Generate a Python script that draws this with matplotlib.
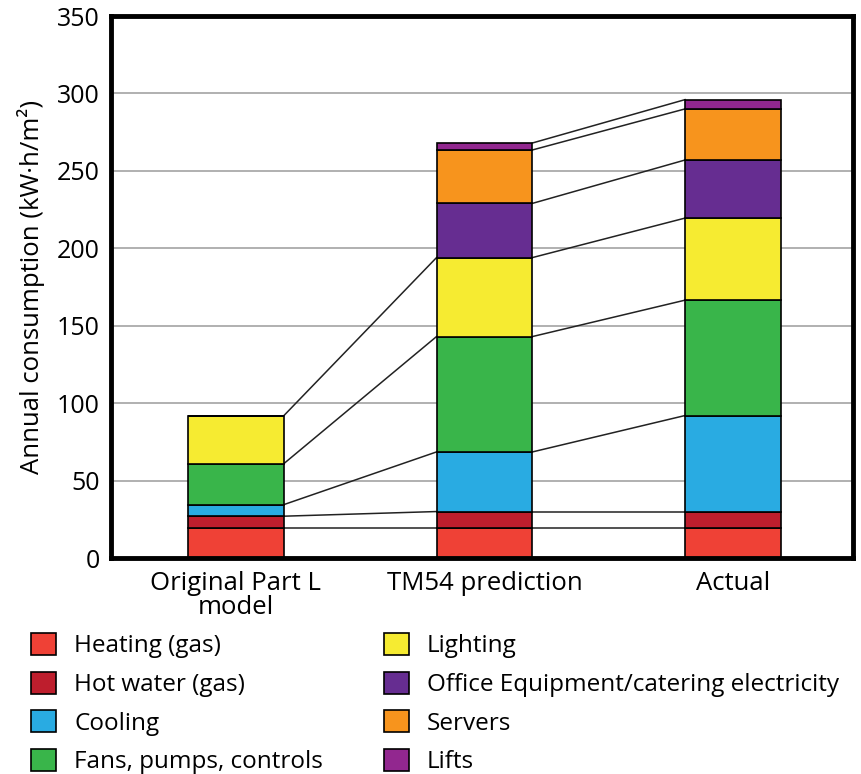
import matplotlib
matplotlib.use("Agg")
import matplotlib.pyplot as plt
from matplotlib.patches import Patch
import numpy as np

plt.rcParams['font.family'] = ['Open Sans', 'DejaVu Sans']

# Data (kWh/m2 per end use)
scenarios = ["Original Part L\nmodel", "TM54 prediction", "Actual"]
end_uses = ["Heating (gas)", "Hot water (gas)", "Cooling", "Fans, pumps, controls",
            "Lighting", "Office Equipment/catering electricity", "Servers", "Lifts"]
heating = [19.5, 19.5, 19.5]
hot_water = [7.5, 10.5, 10.5]
cooling = [7.5, 38.5, 62.0]
fans = [26.5, 74.5, 74.5]
lighting = [31.0, 51.0, 53.0]
office = [0.0, 35.0, 37.5]
servers = [0.0, 34.5, 33.0]
lifts = [0.0, 4.5, 6.0]

colours = ["#EF4136", "#BE1E2D", "#29ABE2", "#39B54A",
           "#F6EB31", "#662D91", "#F7941D", "#92278F"]


def main():
    series = np.array([heating, hot_water, cooling, fans,
                       lighting, office, servers, lifts])
    x = np.arange(len(scenarios))
    width = 0.386

    fig = plt.figure(figsize=(8.61, 7.74), dpi=100)
    ax = fig.add_axes([111 / 861, 1 - 558 / 774, 742 / 861, 542 / 774])

    bottoms = np.zeros(len(scenarios))
    for vals, col in zip(series, colours):
        ax.bar(x, vals, width, bottom=bottoms, color=col,
               edgecolor="black", linewidth=1.2, zorder=3)
        bottoms = bottoms + vals

    # Connector lines between the tops of matching segments
    tops = np.cumsum(series, axis=0)
    for i in range(len(scenarios) - 1):
        for k in range(series.shape[0]):
            if series[k, i] == 0:
                continue
            ax.plot([x[i] + width / 2, x[i + 1] - width / 2],
                     [tops[k, i], tops[k, i + 1]],
                     color="#222222", linewidth=1.1, zorder=2)

    ax.set_xlim(-0.503, 2.483)
    ax.set_ylim(0, 350)
    ax.set_yticks(np.arange(0, 351, 50))
    ax.set_xticks(x)
    ax.set_xticklabels(scenarios, fontsize=18.5, linespacing=1.0)
    ax.tick_params(axis="y", labelsize=18, length=0, pad=8)
    ax.tick_params(axis="x", length=0, pad=9)
    ax.set_ylabel("Annual consumption (kW·h/m²)", fontsize=18.5, labelpad=9)

    for y in range(50, 350, 50):
        ax.axhline(y, color="#AAAAAA", linewidth=1.3, zorder=1)
    for s in ax.spines.values():
        s.set_linewidth(3.5)
        s.set_zorder(5)

    handles = [Patch(facecolor=c, edgecolor="black", linewidth=1.2) for c in colours]
    fig.legend(handles, end_uses, loc="upper left",
               bbox_to_anchor=(31 / 861, 1 - 633 / 774), ncol=2,
               frameon=False, fontsize=17.5, borderpad=0, borderaxespad=0,
               handlelength=1.03, handleheight=1.03, handletextpad=0.74,
               labelspacing=0.54, columnspacing=2.5)

    plt.savefig("out.png", dpi=100)


if __name__ == '__main__':
    main()
